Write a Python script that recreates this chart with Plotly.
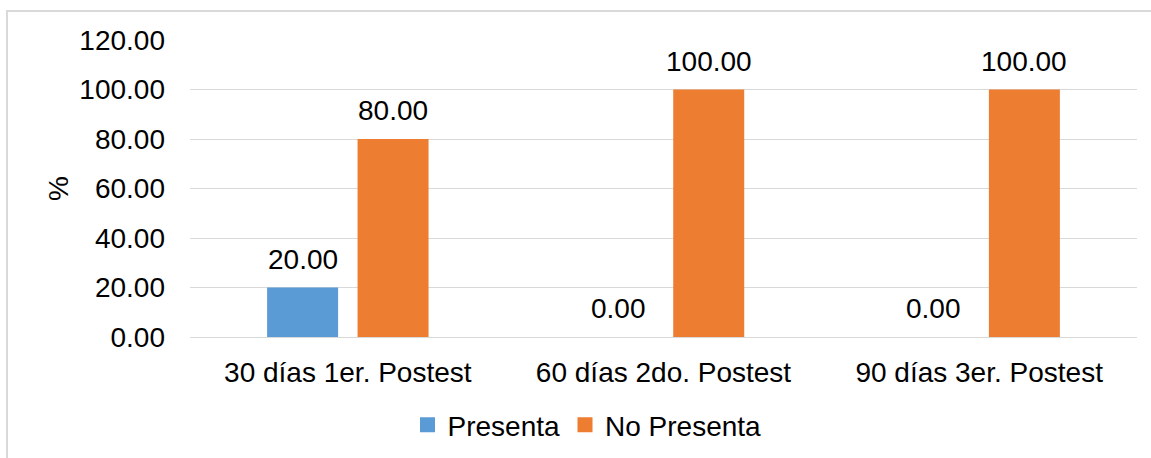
import plotly.graph_objects as go

categories = ["30 días 1er. Postest", "60 días 2do. Postest", "90 días 3er. Postest"]
presenta = [20.00, 0.00, 0.00]
no_presenta = [80.00, 100.00, 100.00]
series_names = ["Presenta", "No Presenta"]
colors = ["#5B9BD5", "#ED7D31"]
tick_vals = [0, 20, 40, 60, 80, 100, 120]

FONT = "Liberation Sans, Arial, sans-serif"
FS = 28

W, H = 1151, 458
L, R, T, B = 190, 14, 40, 121
pw, ph = W - L - R, H - T - B
BARGAP = 0.427
slot_px = (1 - BARGAP) * pw / len(categories) / 2

fig = go.Figure()
series = [presenta, no_presenta]
for k, (name, vals, col) in enumerate(zip(series_names, series, colors)):
    fig.add_trace(go.Bar(
        x=categories, y=vals, name=name, marker=dict(color=col, line=dict(width=0)),
        showlegend=False, cliponaxis=False,
    ))
    # legend entry with larger square swatch
    fig.add_trace(go.Scatter(
        x=[None], y=[None], mode="markers", name=name,
        marker=dict(symbol="square", size=15, color=col), showlegend=True,
    ))
    shift = (k - 0.5) * slot_px
    for c, v in zip(categories, vals):
        fig.add_annotation(x=c, y=v, text=f"{v:.2f}", showarrow=False,
                           xshift=shift, yshift=11, yanchor="bottom",
                           font=dict(family=FONT, size=FS, color="#000000"))

fig.update_layout(
    width=W, height=H,
    margin=dict(l=L, r=R, t=T, b=B, autoexpand=False),
    paper_bgcolor="white", plot_bgcolor="white",
    barmode="group", bargap=BARGAP, bargroupgap=0.215,
    font=dict(family=FONT, size=FS, color="#000000"),
    showlegend=True,
    legend=dict(orientation="h", xref="container", yref="container",
                x=587 / W, xanchor="center", y=(H - 425) / H, yanchor="middle",
                font=dict(family=FONT, size=FS), itemwidth=30, traceorder="normal",
                tracegroupgap=0),
)
fig.update_yaxes(
    range=[0, 120], tickvals=tick_vals, ticktext=[f"{v:.2f}" for v in tick_vals],
    showgrid=True, gridcolor="#D9D9D9", gridwidth=1, zeroline=False,
    showline=False, ticks="", ticklabelstandoff=24,
    title=dict(text="%", font=dict(family=FONT, size=FS), standoff=2),
    tickfont=dict(family=FONT, size=FS), automargin=False,
)
fig.update_xaxes(
    showline=True, linecolor="#D9D9D9", linewidth=1, ticks="",
    tickfont=dict(family=FONT, size=FS), ticklabelstandoff=10, automargin=False,
)
fig.add_shape(type="rect", xref="paper", yref="paper",
              x0=(7 - L) / pw, x1=(W + 60 - L) / pw,
              y0=(H - B - (H + 60)) / ph, y1=(H - B - 11) / ph,
              line=dict(color="#D9D9D9", width=2), fillcolor="rgba(0,0,0,0)", layer="below")

fig.write_html("out.html")
